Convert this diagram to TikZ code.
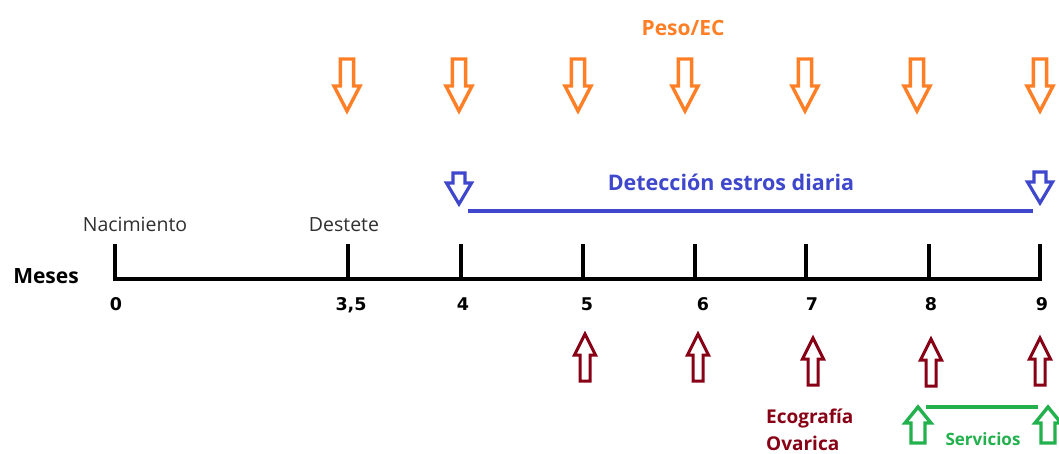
\documentclass[tikz,border=0pt]{standalone}
\usepackage{fontspec}
\setmainfont{Open Sans}
\newfontfamily\numfont{DejaVu Sans}
\definecolor{pesoorange}{HTML}{FF7F27}
\definecolor{estroblue}{HTML}{3F48CC}
\definecolor{ecored}{HTML}{880015}
\definecolor{servgreen}{HTML}{22B14C}
\definecolor{labelgray}{HTML}{303030}
\tikzset{
  % hollow block arrow: tail centre at the origin, pointing along +y
  % #1 shaft half-width, #2 head half-width, #3 shaft length, #4 total length
  pics/harrow/.style n args={4}{code={
    \draw (-#1,0) -- (#1,0) -- (#1,#3) -- (#2,#3) -- (0,#4)
          -- (-#2,#3) -- (-#1,#3) -- cycle;
    \coordinate (-tip) at (0,#4);
    \coordinate (-tail) at (0,0);
  }},
  pesoarrow/.style={draw=pesoorange, line width=3.4pt, line join=miter},
  estroarrow/.style={draw=estroblue, line width=3.2pt, line join=miter},
  ecoarrow/.style={draw=ecored, line width=3pt, line join=miter},
  servarrow/.style={draw=servgreen, line width=3.4pt, line join=miter},
  axisline/.style={draw=black, line width=4pt},
  plain/.style={font=\fontsize{19.5}{22}\selectfont, text=labelgray, anchor=base, inner sep=0pt},
  num/.style={font=\fontsize{17.5}{20}\numfont\bfseries, text=black, anchor=base, inner sep=0pt},
  boldlabel/.style={font=\fontsize{19}{22}\selectfont\bfseries, anchor=base, inner sep=0pt},
}
\begin{document}
\begin{tikzpicture}[x=1pt,y=-1pt]
\useasboundingbox[fill=white] (0,0) rectangle (1059,453);

% ---- time axis (months) ----
\coordinate (m0)  at (115,279);
\coordinate (m35) at (348,279);
\coordinate (m4)  at (460.5,279);
\coordinate (m5)  at (582.5,279);
\coordinate (m6)  at (694.5,279);
\coordinate (m7)  at (806,279);
\coordinate (m8)  at (928.5,279);
\coordinate (m9)  at (1040,279);
\draw[axisline, line cap=rect] (m0) -- (m9);
\foreach \m in {m0,m35,m4,m5,m6,m7,m8,m9}
  \draw[axisline] (\m) -- ++(0,-35);

\node[boldlabel, text=black, font=\fontsize{21}{24}\selectfont\bfseries] (meses) at (46,283) {Meses};
\node[num] (n0)  at (116,310) {0};
\node[num] (n35) at (351,310) {3,5};
\node[num] (n4)  at (463,310) {4};
\node[num] (n5)  at (587,310) {5};
\node[num] (n6)  at (703,310) {6};
\node[num] (n7)  at (812,310) {7};
\node[num] (n8)  at (931,310) {8};
\node[num] (n9)  at (1042,310) {9};

\node[plain] (nac) at (135,231) {Nacimiento};
\node[plain] (des) at (344,231) {Destete};

% ---- body weight / condition score checks ----
\node[boldlabel, text=pesoorange, font=\fontsize{21}{24}\selectfont\bfseries] (peso) at (683,35) {Peso/EC};
\foreach \x [count=\i] in {347,459,578,685,805,917,1040}
  \pic[pesoarrow] (pa\i) at (\x,59) {harrow={6.6}{13}{27}{52}};

% ---- daily heat detection ----
\pic[estroarrow] (ea1) at (459,173) {harrow={6}{12.5}{10}{31}};
\pic[estroarrow] (ea2) at (1040,172) {harrow={6}{12.5}{10}{31}};
\draw[estroblue, line width=4pt] ([shift={(9,7)}]ea1-tip) -- ([shift={(-7,8)}]ea2-tip);
\node[boldlabel, text=estroblue, font=\fontsize{21.5}{24}\selectfont\bfseries] (estro) at (731,190) {Detección estros diaria};

% ---- ovarian ultrasound ----
\foreach \x/\y [count=\i] in {585/381,698/381,813/385,931/386,1040/385}
  \pic[ecoarrow, yscale=-1] (ua\i) at (\x,\y) {harrow={5}{10.5}{26}{47}};
\node[boldlabel, text=ecored, anchor=base west] (eco1) at (766,423) {Ecografía};
\node[boldlabel, text=ecored, anchor=base west] (eco2) at (766,450) {Ovarica};

% ---- services ----
\pic[servarrow, yscale=-1] (sa1) at (918,443) {harrow={7}{13}{20}{36}};
\pic[servarrow, yscale=-1] (sa2) at (1048,443) {harrow={7}{13}{20}{36}};
\draw[servgreen, line width=3.5pt] ([shift={(8,0)}]sa1-tip) -- ([shift={(-10,0)}]sa2-tip);
\node[boldlabel, text=servgreen, font=\fontsize{17}{19}\selectfont\bfseries] (serv) at (983,445) {Servicios};
\end{tikzpicture}
\end{document}
